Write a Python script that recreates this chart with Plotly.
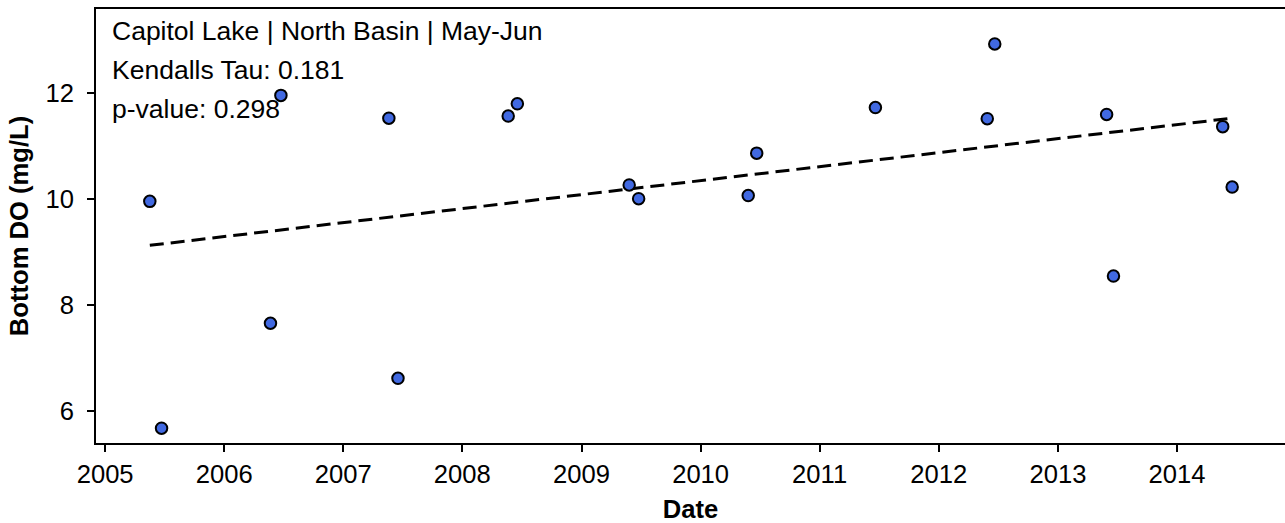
import plotly.graph_objects as go

# ---- data ----
dates = ["2005-05-18", "2005-06-23", "2006-05-23", "2006-06-24", "2007-05-21",
         "2007-06-18", "2008-05-21", "2008-06-18", "2009-05-27", "2009-06-25",
         "2010-05-27", "2010-06-22", "2011-06-21", "2012-05-29", "2012-06-21",
         "2013-05-30", "2013-06-20", "2014-05-21", "2014-06-19"]
bottom_do = [9.95, 5.67, 7.65, 11.95, 11.52, 6.61, 11.56, 11.79, 10.26, 10.00,
             10.06, 10.86, 11.72, 11.51, 12.92, 11.59, 8.54, 11.36, 10.22]
trend_dates = ["2005-05-18", "2014-06-19"]
trend_values = [9.12, 11.52]
info_lines = ["Capitol Lake | North Basin | May-Jun",
              "Kendalls Tau: 0.181",
              "p-value: 0.298"]
x_title = "Date"
y_title = "Bottom DO (mg/L)"

W, H = 1285, 523
ml, mr, mt, mb = 96, 0, 9, 80
FONT = "Liberation Sans, Arial, sans-serif"
FS = 25.6
FS_TXT = 26.5

fig = go.Figure()
fig.add_trace(go.Scatter(
    x=trend_dates, y=trend_values, mode="lines",
    line=dict(color="black", width=3, dash="14px,7px"),
    hoverinfo="skip", showlegend=False))
fig.add_trace(go.Scatter(
    x=dates, y=bottom_do, mode="markers",
    marker=dict(size=11.5, color="#4169E1", line=dict(color="black", width=2)),
    showlegend=False))

ph = H - mt - mb
pw = W - ml - mr
for i, t in enumerate(info_lines):
    cy = 31 + 39 * i
    fig.add_annotation(
        text=t, xref="paper", yref="paper",
        x=(111 - ml) / pw, y=1 - (cy - mt) / ph,
        xanchor="left", yanchor="middle", showarrow=False,
        font=dict(family=FONT, size=FS_TXT, color="black"), borderpad=0)

fig.update_layout(
    width=W, height=H,
    margin=dict(l=ml, r=mr, t=mt, b=mb, pad=0),
    plot_bgcolor="white", paper_bgcolor="white",
    font=dict(family=FONT, size=FS, color="black"),
    xaxis=dict(
        type="date", range=["2004-12-04", "2014-11-28"],
        tick0="2005-01-01", dtick="M12", tickformat="%Y",
        showgrid=False, zeroline=False,
        showline=True, linecolor="black", linewidth=2, mirror=True,
        ticks="outside", ticklen=7, tickwidth=2, tickcolor="black",
        tickfont=dict(size=FS),
        title=dict(text="<b>" + x_title + "</b>", font=dict(size=FS), standoff=14)),
    yaxis=dict(
        range=[5.39, 13.58], tickvals=[6, 8, 10, 12],
        showgrid=False, zeroline=False,
        showline=True, linecolor="black", linewidth=2, mirror=False,
        ticks="outside", ticklen=7, tickwidth=2, tickcolor="black",
        ticklabelstandoff=8,
        tickfont=dict(size=FS),
        title=dict(text="<b>" + y_title + "</b>", font=dict(size=FS), standoff=9)),
)

fig.write_html(
    "out.html",
    config={"displayModeBar": False},
    post_script="document.body.style.margin='0';document.body.style.overflow='hidden';")
